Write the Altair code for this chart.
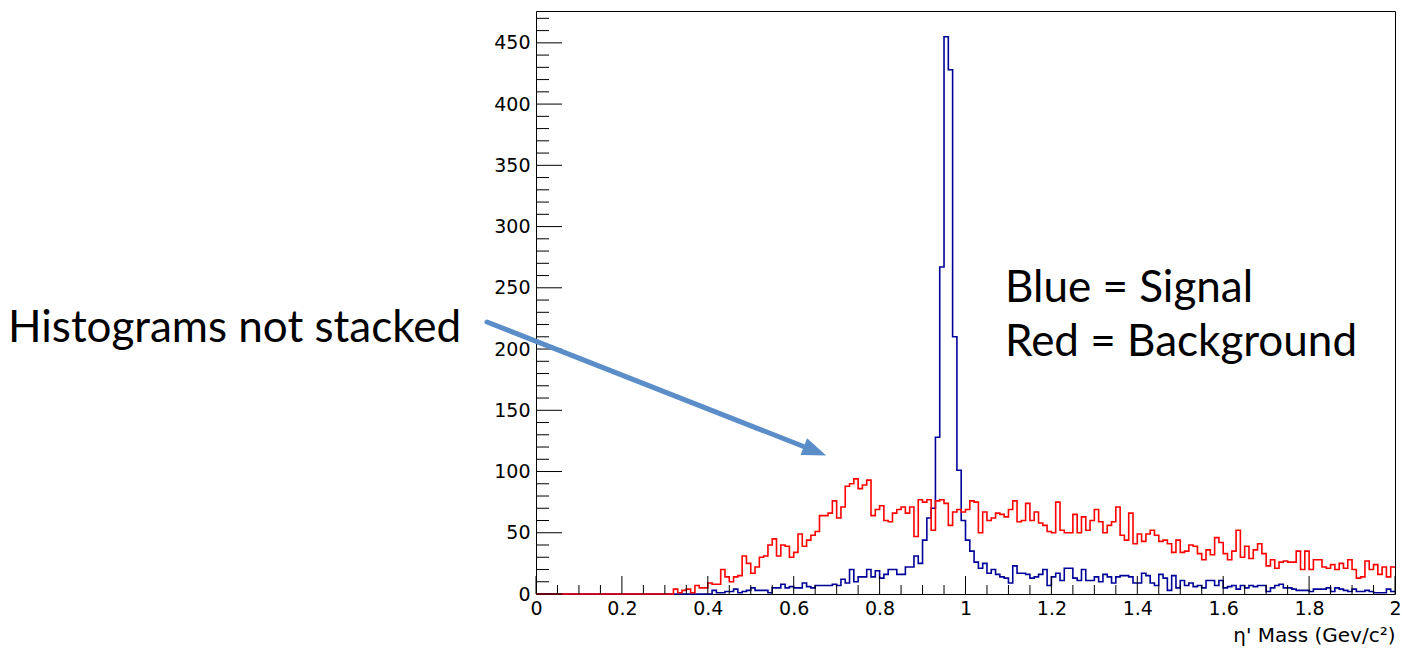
import altair as alt
import pandas as pd

# ---------------- data (bin width 0.01, 200 bins from 0 to 2) ----------------
BIN_WIDTH = 0.01
N_BINS = 200

red_counts = (
    [0] * 32
    + [4, 1, 3, 4, 1, 7, 5, 5]                      # 0.32-0.39
    + [9, 8, 8, 20, 14, 10, 14, 15, 31, 25]         # 0.40
    + [17, 22, 30, 31, 40, 45, 31, 40, 39, 30]      # 0.50
    + [34, 49, 39, 44, 48, 51, 64, 64, 66, 76]      # 0.60
    + [62, 71, 88, 90, 94, 86, 89, 93, 64, 69]      # 0.70
    + [72, 60, 59, 66, 69, 71, 66, 71, 47, 77]      # 0.80
    + [75, 77, 52, 76, 77, 74, 56, 67, 69, 67]      # 0.90
    + [69, 76, 75, 50, 67, 60, 62, 66, 65, 63]      # 1.00
    + [69, 76, 59, 60, 74, 60, 67, 58, 56, 51]      # 1.10
    + [50, 75, 52, 50, 50, 65, 50, 63, 52, 60]      # 1.20
    + [69, 59, 50, 56, 59, 71, 48, 44, 66, 41]      # 1.30
    + [49, 43, 49, 52, 48, 43, 44, 41, 34, 44]      # 1.40
    + [34, 35, 40, 39, 33, 28, 36, 32, 46, 42]      # 1.50
    + [33, 28, 35, 52, 30, 39, 29, 36, 41, 33]      # 1.60
    + [23, 28, 21, 26, 27, 26, 26, 35, 20, 35]      # 1.70
    + [20, 28, 28, 22, 21, 24, 20, 25, 21, 28]      # 1.80
    + [20, 13, 14, 27, 20, 24, 16, 22, 14, 22]      # 1.90
)

blue_counts = (
    [0] * 41
    + [3, 1, 1, 2, 2, 4, 1, 2, 3]                   # 0.41-0.49
    + [5, 3, 3, 3, 1, 5, 5, 8, 5, 6]                # 0.50
    + [5, 5, 9, 6, 5, 7, 7, 7, 7, 8]                # 0.60
    + [7, 12, 9, 20, 10, 14, 14, 20, 14, 19]        # 0.70
    + [13, 16, 20, 20, 16, 16, 22, 22, 31, 25]      # 0.80
    + [44, 62, 70, 128, 267, 455, 428, 210, 101, 60]  # 0.90
    + [44, 35, 26, 21, 25, 17, 20, 16, 14, 13]      # 1.00
    + [9, 23, 17, 17, 16, 13, 14, 16, 20, 7]        # 1.10
    + [14, 17, 11, 21, 21, 13, 11, 20, 11, 11]      # 1.20
    + [14, 10, 16, 14, 9, 14, 15, 15, 14, 9]        # 1.30
    + [9, 17, 15, 9, 7, 16, 13, 3, 15, 5]           # 1.40
    + [11, 7, 9, 6, 7, 5, 11, 11, 7, 11]            # 1.50
    + [5, 6, 7, 4, 7, 5, 7, 6, 7, 7]                # 1.60
    + [2, 5, 7, 8, 5, 5, 4, 3, 3, 3]                # 1.70
    + [2, 4, 4, 4, 5, 2, 5, 4, 3, 2]                # 1.80
    + [4, 2, 2, 3, 2, 1, 1, 1, 4, 2]                # 1.90
)

assert len(red_counts) == N_BINS and len(blue_counts) == N_BINS

x_major = [0, 0.2, 0.4, 0.6, 0.8, 1, 1.2, 1.4, 1.6, 1.8, 2]
x_minor = [round(i * 0.05, 2) for i in range(41) if i % 4]
y_major = [0, 50, 100, 150, 200, 250, 300, 350, 400, 450]
y_minor = [i * 10 for i in range(48) if i % 5]

x_title = "η' Mass (Gev/c²)"
legend_lines = ["Blue = Signal", "Red = Background"]
note_text = ["Histograms not stacked"]

# ---------------- layout ----------------
W, H = 859, 583
PAD = {"left": 536, "top": 11, "right": 7, "bottom": 56}
FONT = "DejaVu Sans"
ANN_FONT = "Lato"
ANN_SIZE = 44
BLUE = "#000099"
RED = "#ff0000"
ARROW = "#5b8ec9"


def hist_frame(counts):
    edges = [round(k * BIN_WIDTH, 2) for k in range(N_BINS + 1)]
    vals = list(counts) + [counts[-1]]
    return pd.DataFrame({"x": edges, "count": vals})


xscale = alt.Scale(domain=[0, 2], nice=False, zero=False)
yscale = alt.Scale(domain=[0, 476], nice=False)

x_axis = alt.Axis(
    values=x_major, format="~g", labelFlush=False, ticks=False, domain=False,
    grid=False, labelFont=FONT, labelFontSize=19, labelColor="black",
    labelPadding=5, title=x_title, titleAnchor="end", titleFont=FONT,
    titleFontSize=20, titleFontWeight="normal", titleColor="black",
    titlePadding=7,
)
y_axis = alt.Axis(
    values=y_major, labelFlush=False, ticks=False, domain=False, grid=False,
    labelFont=FONT, labelFontSize=19, labelColor="black", labelPadding=6,
    title="",
)


def X(field):
    return alt.X(field, scale=xscale, axis=x_axis)


def Y(field):
    return alt.Y(field, scale=yscale, axis=y_axis)


blue_layer = alt.Chart(hist_frame(blue_counts)).mark_line(
    interpolate="step-after", color=BLUE, strokeWidth=1.6
).encode(x=X("x:Q"), y=Y("count:Q"))

red_layer = alt.Chart(hist_frame(red_counts)).mark_line(
    interpolate="step-after", color=RED, strokeWidth=1.6
).encode(x=X("x:Q"), y=Y("count:Q"))

# inward ticks (ROOT style)
xmaj = alt.Chart(pd.DataFrame({"x": x_major})).mark_rule(color="black", strokeWidth=1).encode(
    x=X("x:Q"), y=alt.value(H), y2=alt.value(H - 18))
xmin = alt.Chart(pd.DataFrame({"x": x_minor})).mark_rule(color="black", strokeWidth=1).encode(
    x=X("x:Q"), y=alt.value(H), y2=alt.value(H - 9))
ymaj = alt.Chart(pd.DataFrame({"count": y_major})).mark_rule(color="black", strokeWidth=1).encode(
    y=Y("count:Q"), x=alt.value(0), x2=alt.value(26))
ymin = alt.Chart(pd.DataFrame({"count": y_minor})).mark_rule(color="black", strokeWidth=1).encode(
    y=Y("count:Q"), x=alt.value(0), x2=alt.value(13))

# annotations
legend1 = alt.Chart(pd.DataFrame({"t": [legend_lines[0]]})).mark_text(
    font=ANN_FONT, fontSize=ANN_SIZE, align="left", baseline="alphabetic", color="black"
).encode(x=alt.value(469), y=alt.value(291), text="t:N")
legend2 = alt.Chart(pd.DataFrame({"t": [legend_lines[1]]})).mark_text(
    font=ANN_FONT, fontSize=ANN_SIZE, align="left", baseline="alphabetic", color="black"
).encode(x=alt.value(469), y=alt.value(345), text="t:N")
note = alt.Chart(pd.DataFrame({"t": note_text})).mark_text(
    font=ANN_FONT, fontSize=ANN_SIZE, align="left", baseline="alphabetic", color="black"
).encode(x=alt.value(-528), y=alt.value(331), text="t:N")

arrow_shaft = alt.Chart(pd.DataFrame({"a": [0]})).mark_rule(
    color=ARROW, strokeWidth=5, strokeCap="round"
).encode(x=alt.value(-49), y=alt.value(311), x2=alt.value(279), y2=alt.value(440))
arrow_head = alt.Chart(pd.DataFrame({"a": [0]})).mark_point(
    shape="M1,0L-1,-0.75L-1,0.75Z", filled=True, color=ARROW, opacity=1,
    size=576, angle=21.4, strokeWidth=0
).encode(x=alt.value(279), y=alt.value(440))

chart = alt.layer(
    blue_layer, red_layer, xmaj, xmin, ymaj, ymin,
    arrow_shaft, arrow_head, legend1, legend2, note,
).properties(
    width=W, height=H, padding=PAD,
    autosize=alt.AutoSizeParams(type="none"),
    background="white",
).configure_view(stroke="black", strokeWidth=1)

chart.save("out.html", embed_options={"renderer": "svg", "actions": False})
